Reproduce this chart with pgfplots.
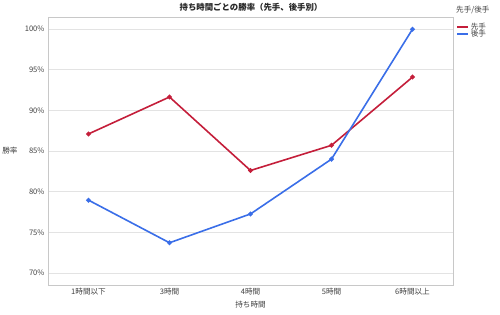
\documentclass[border=0pt]{standalone}
\usepackage{pgfplots}
\pgfplotsset{compat=1.18}
\usepackage{fontspec}
\setmainfont{Noto Sans CJK JP}
\definecolor{sente}{HTML}{C41E3A}
\definecolor{gote}{HTML}{3A6EE8}
\definecolor{gridc}{HTML}{E3E3E3}
\definecolor{framec}{HTML}{C8C8C8}
\definecolor{txt}{HTML}{404040}
\begin{document}
\begin{tikzpicture}[x=1pt,y=1pt]
\path[use as bounding box] (0,0) rectangle (500,314);
\begin{axis}[
  at={(48pt,29pt)}, anchor=south west,
  scale only axis, width=405pt, height=268pt,
  xmin=-0.5, xmax=4.5, ymin=68.5, ymax=101.5,
  xtick={0,1,2,3,4},
  xticklabels={1時間以下,3時間,4時間,5時間,6時間以上},
  ytick={70,75,80,85,90,95,100},
  yticklabel={\pgfmathprintnumber{\tick}\%},
  /pgf/number format/assume math mode=true,
  tick label style={font=\fontsize{7.6}{8}\selectfont, text=txt},
  ymajorgrids, grid style={gridc, line width=0.6pt},
  major tick length=0pt,
  axis line style={framec, line width=0.8pt},
  xlabel={持ち時間}, ylabel={勝率},
  label style={font=\fontsize{7.6}{8}\selectfont, text=txt},
  xlabel style={at={(axis description cs:0.5,0)}, anchor=north, yshift=-13pt},
  ylabel style={rotate=-90, at={(axis description cs:0,0.5)}, anchor=center, xshift=-38pt},
  clip=false,
  legend style={draw=none, fill=none, at={(rel axis cs:1,1.0)}, anchor=north west, xshift=2pt, yshift=-3pt,
    font=\fontsize{7.6}{8}\selectfont, text=txt, row sep=-5pt, inner sep=1pt},
  legend image code/.code={\draw[#1, line width=1.6pt] (0pt,0pt) -- (11pt,0pt);},
]
\addplot[sente, line width=1.6pt, mark=*, mark size=1.5pt] coordinates {
  (0,87.1) (1,91.65) (2,82.6) (3,85.7) (4,94.1)};
\addlegendentry{先手}
\addplot[gote, line width=1.6pt, mark=*, mark size=1.5pt] coordinates {
  (0,78.95) (1,73.7) (2,77.25) (3,84.0) (4,100.0)};
\addlegendentry{後手}
\end{axis}
\node[font=\fontsize{7.6}{8}\selectfont, text=txt, anchor=west, fill=white, inner sep=1pt] at (455,304) {先手/後手};
\node[font=\bfseries\fontsize{8.4}{9}\selectfont, text=black!85] at (251,307) {持ち時間ごとの勝率（先手、後手別）};
\end{tikzpicture}
\end{document}
